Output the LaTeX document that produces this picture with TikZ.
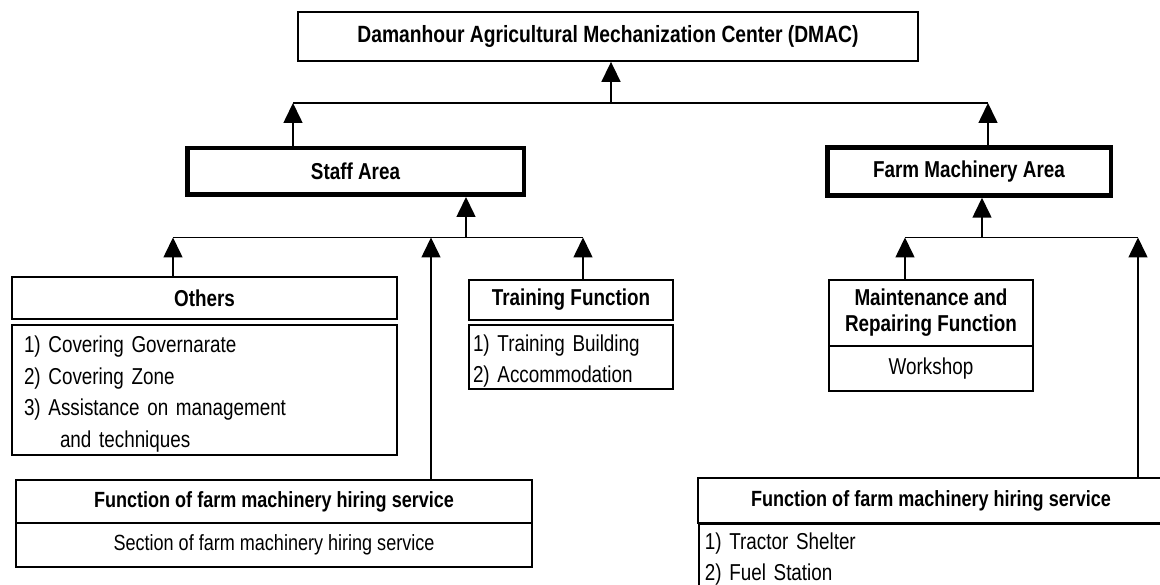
\documentclass[tikz,border=0pt]{standalone}
\usepackage{fontspec}
\setmainfont{Liberation Sans}[FakeStretch=0.82]
\usetikzlibrary{arrows.meta}

\begin{document}
\begin{tikzpicture}[x=1pt, y=-1pt,
    box/.style={draw, line width=1.8pt, inner sep=0pt},
    thickbox/.style={draw, line width=4.5pt, inner sep=0pt},
    hdr/.style={font=\bfseries\fontsize{23}{26}\selectfont, align=center},
    lst/.style={font=\fontsize{23}{31.5}\selectfont, align=left},
    conn/.style={line width=1.6pt},
    arr/.style={line width=1.6pt, -{Triangle[width=19pt,length=20pt]}}]
  \clip (0,0) rectangle (1160,585);
  \fill[white] (0,0) rectangle (1160,585);

  % top level
  \node[box, hdr, font=\bfseries\fontsize{23.5}{26}\selectfont, minimum width=620, minimum height=49] (dmac) at (608,36.5) {Damanhour Agricultural Mechanization Center (DMAC)};
  \node[thickbox, hdr, minimum width=336.5, minimum height=46.5] (staff) at (355.5,171.5) {Staff Area};
  \node[thickbox, hdr, minimum width=283.5, minimum height=48] (farm) at (969,171.5) {Farm Machinery Area};

  % staff side
  \node[box, hdr, minimum width=385, minimum height=42] (others) at (204.5,298) {Others};
  \node[box, lst, inner xsep=12pt, text width=361, text height=25pt, minimum height=130] (otherslist) at (204.5,390)
    {1) Covering Governarate\\2) Covering Zone\\3) Assistance on management\\\hspace*{36pt}and techniques};
  \node[box, hdr, minimum width=204, minimum height=40] (train) at (571,300) {Training Function};
  \node[box, lst, inner xsep=4pt, text width=196, text height=25pt, minimum height=64] (trainlist) at (571,357)
    {1) Training Building\\2) Accommodation};
  \node[box, hdr, font=\bfseries\fontsize{22}{26}\selectfont, minimum width=516, minimum height=43] (hireL) at (274,501.5) {Function of farm machinery hiring service};
  \node[box, lst, align=center, font=\fontsize{22}{26}\selectfont, minimum width=516, minimum height=44] (hireLlist) at (274,545) {Section of farm machinery hiring service};

  % farm machinery side
  \node[box, hdr, minimum width=204, minimum height=66] (maint) at (931,313) {Maintenance and\\Repairing Function};
  \node[box, lst, align=center, minimum width=204, minimum height=45] (workshop) at (931,368.5) {Workshop};
  \node[box, hdr, font=\bfseries\fontsize{22}{26}\selectfont, minimum width=466, minimum height=45] (hireR) at (931,500.5) {Function of farm machinery hiring service};
  \node[box, lst, anchor=north west, inner xsep=6pt, text width=454, minimum height=70] (hireRlist) at (698,523)
    {1) Tractor Shelter\\2) Fuel Station};

  % connectors
  \coordinate (topL) at (293,103);
  \coordinate (topM) at (611,103);
  \coordinate (topR) at (988,103);
  \draw[conn] (topL) -- (topR);
  \draw[arr] (topL |- staff.north) -- (topL);
  \draw[arr] (topR |- farm.north) -- (topR);
  \draw[arr] (topM) -- (topM |- dmac.south);

  \coordinate (stL) at (173,237.5);
  \coordinate (stH) at (431,237.5);
  \coordinate (stM) at (466,237.5);
  \coordinate (stR) at (583,237.5);
  \draw[conn] (stL) -- (stR);
  \draw[arr] (stL |- others.north) -- (stL);
  \draw[arr] (stH |- hireL.north) -- (stH);
  \draw[arr] (stR |- train.north) -- (stR);
  \draw[arr] (stM) -- (stM |- staff.south);

  \coordinate (fmL) at (905,237.5);
  \coordinate (fmM) at (982,237.5);
  \coordinate (fmR) at (1138,237.5);
  \draw[conn] (fmL) -- (fmR);
  \draw[arr] (fmL |- maint.north) -- (fmL);
  \draw[arr] (fmR |- hireR.north) -- (fmR);
  \draw[arr] (fmM) -- (fmM |- farm.south);
\end{tikzpicture}
\end{document}
